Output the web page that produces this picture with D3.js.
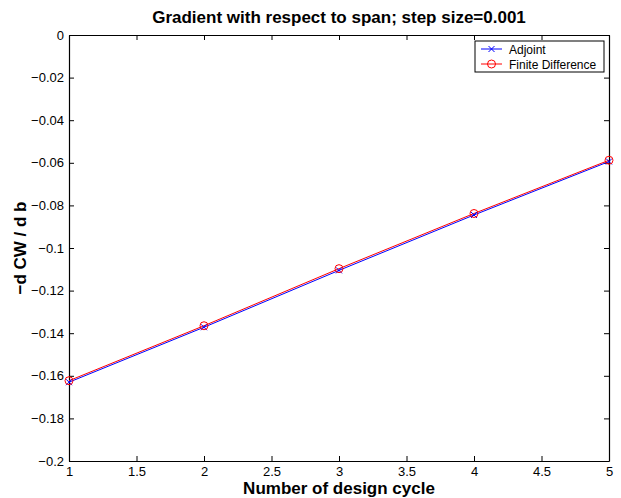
<!DOCTYPE html>
<html>
<head>
<meta charset="utf-8">
<script src="https://cdn.jsdelivr.net/npm/d3@7"></script>
<style>
  html, body { margin: 0; padding: 0; background: #fff; }
  svg { display: block; font-family: "Liberation Sans", Arial, Helvetica, sans-serif; }
</style>
</head>
<body>
<svg id="chart" width="621" height="498"></svg>
<script>
// Design cycles and the two gradient estimates
const cycles = [1, 2, 3, 4, 5];
const adjoint = [-0.1630, -0.1372, -0.1105, -0.0845, -0.0594];
const finiteDiff = [-0.1623, -0.1365, -0.1097, -0.0838, -0.0588];
const xTicks = [1, 1.5, 2, 2.5, 3, 3.5, 4, 4.5, 5];
const yTicks = [0, -0.02, -0.04, -0.06, -0.08, -0.1, -0.12, -0.14, -0.16, -0.18, -0.2];
const seriesNames = ["Adjoint", "Finite Difference"];

const svg = d3.select("#chart");
const W = 621, H = 498;
const m = { left: 69, right: W - 609, top: 35, bottom: H - 461 };

const x = d3.scaleLinear().domain([1, 5]).range([m.left, W - m.right]);
const y = d3.scaleLinear().domain([-0.2, 0]).range([H - m.bottom, m.top]);

const fmt = d => (d === 0 ? "0" : String(d).replace("-", "\u2212"));

// Axes with inward ticks on all four sides
const tickLen = 5;
const bottomAxis = d3.axisBottom(x).tickValues(xTicks).tickSizeInner(-tickLen).tickSizeOuter(0).tickPadding(6).tickFormat(d => String(d));
const topAxis = d3.axisTop(x).tickValues(xTicks).tickSizeInner(-tickLen).tickSizeOuter(0).tickFormat("");
const leftAxis = d3.axisLeft(y).tickValues(yTicks).tickSizeInner(-tickLen).tickSizeOuter(0).tickPadding(5).tickFormat(fmt);
const rightAxis = d3.axisRight(y).tickValues(yTicks).tickSizeInner(-tickLen).tickSizeOuter(0).tickFormat("");

function style(g) {
  g.select(".domain").attr("stroke", "#000").attr("stroke-width", 1.2);
  g.selectAll(".tick line").attr("stroke", "#000");
  g.selectAll(".tick text").attr("fill", "#000").attr("font-size", 13)
    .attr("font-family", "'Liberation Sans', Arial, sans-serif");
}

svg.append("g").attr("transform", `translate(0,${H - m.bottom})`).call(bottomAxis).call(style);
svg.append("g").attr("transform", `translate(0,${m.top})`).call(topAxis).call(style);
svg.append("g").attr("transform", `translate(${m.left},0)`).call(leftAxis).call(style);
svg.append("g").attr("transform", `translate(${W - m.right},0)`).call(rightAxis).call(style);

// Series lines and markers
const line = d3.line().x((d, i) => x(cycles[i])).y(d => y(d));

svg.append("path").datum(adjoint).attr("d", line)
  .attr("fill", "none").attr("stroke", "#0000ff").attr("stroke-width", 1);
svg.append("path").datum(finiteDiff).attr("d", line)
  .attr("fill", "none").attr("stroke", "#ff0000").attr("stroke-width", 1);

const xs = 3;
svg.append("g").selectAll("path").data(adjoint).join("path")
  .attr("d", (d, i) => {
    const cx = x(cycles[i]), cy = y(d);
    return `M${cx - xs},${cy - xs}L${cx + xs},${cy + xs}M${cx - xs},${cy + xs}L${cx + xs},${cy - xs}`;
  })
  .attr("stroke", "#0000ff").attr("stroke-width", 1).attr("fill", "none");

svg.append("g").selectAll("circle").data(finiteDiff).join("circle")
  .attr("cx", (d, i) => x(cycles[i])).attr("cy", d => y(d)).attr("r", 4)
  .attr("fill", "none").attr("stroke", "#ff0000").attr("stroke-width", 1);

// Title and axis labels
const midX = (m.left + W - m.right) / 2;
svg.append("text").attr("x", midX).attr("y", 23)
  .attr("text-anchor", "middle").attr("font-weight", "bold").attr("font-size", 17)
  .text("Gradient with respect to span; step size=0.001");
svg.append("text").attr("x", midX).attr("y", 494)
  .attr("text-anchor", "middle").attr("font-weight", "bold").attr("font-size", 17)
  .text("Number of design cycle");
svg.append("text")
  .attr("transform", `translate(26,${(m.top + H - m.bottom) / 2}) rotate(-90)`)
  .attr("text-anchor", "middle").attr("font-weight", "bold").attr("font-size", 17)
  .text("\u2212d CW / d b");

// Legend
const lg = svg.append("g");
const lx = 475, ly = 41, lw = 129, lh = 31;
lg.append("rect").attr("x", lx).attr("y", ly).attr("width", lw).attr("height", lh)
  .attr("fill", "#fff").attr("stroke", "#000").attr("stroke-width", 1);
const colors = ["#0000ff", "#ff0000"];
seriesNames.forEach((name, i) => {
  const yy = ly + 8 + i * 15;
  lg.append("line").attr("x1", lx + 6).attr("x2", lx + 27).attr("y1", yy).attr("y2", yy)
    .attr("stroke", colors[i]);
  const cx = lx + 16.5;
  if (i === 0) {
    lg.append("path").attr("d", `M${cx - 3},${yy - 3}L${cx + 3},${yy + 3}M${cx - 3},${yy + 3}L${cx + 3},${yy - 3}`)
      .attr("stroke", colors[i]);
  } else {
    lg.append("circle").attr("cx", cx).attr("cy", yy).attr("r", 4)
      .attr("fill", "none").attr("stroke", colors[i]);
  }
  lg.append("text").attr("x", lx + 34).attr("y", yy + 4.5).attr("font-size", 12).text(name);
});
</script>
</body>
</html>
